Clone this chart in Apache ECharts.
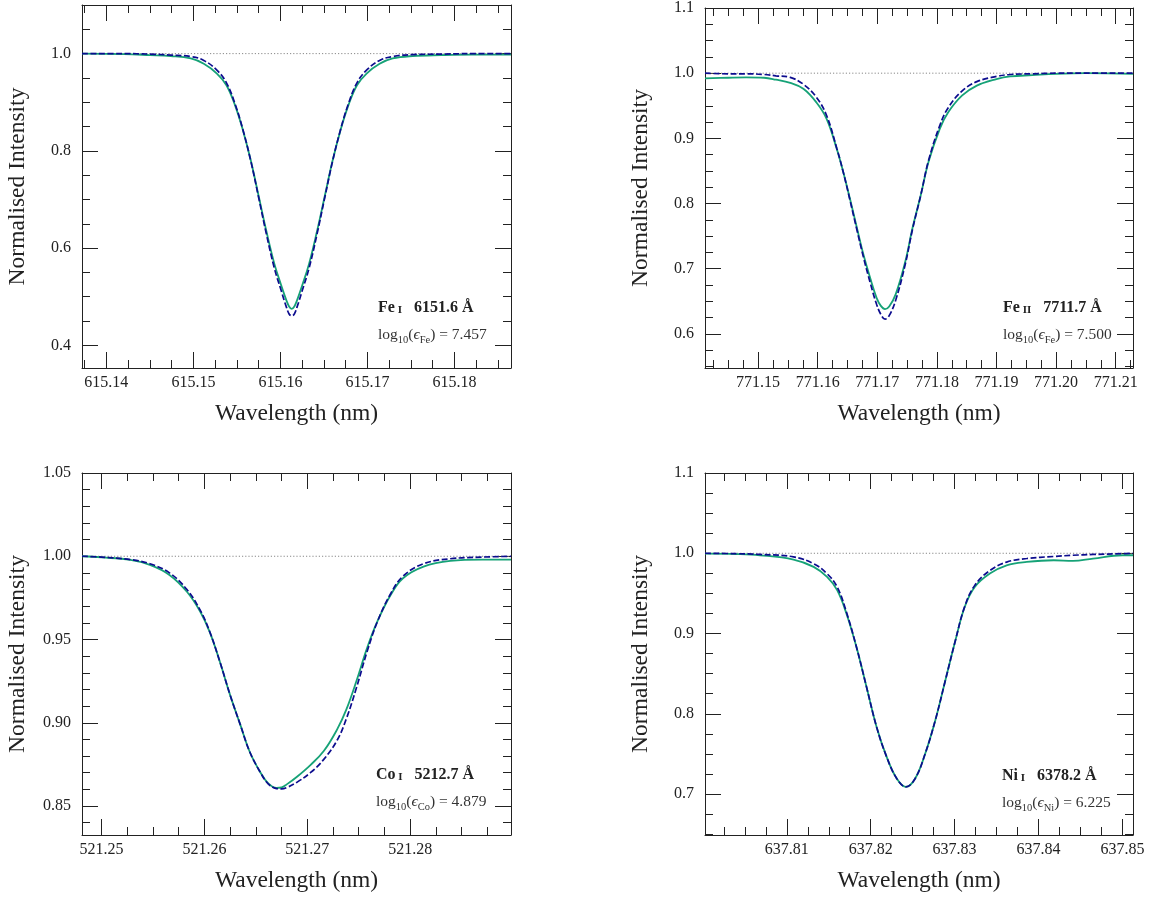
<!DOCTYPE html>
<html><head><meta charset="utf-8">
<script src="https://cdn.jsdelivr.net/npm/echarts@6/dist/echarts.min.js"></script>
<style>html,body{margin:0;padding:0;background:#fff}#c{width:1156px;height:899px}</style>
</head><body><div id="c"></div>
<script>
// ---------------- DATA ----------------
// Panel 1: Fe I 6151.6 A
const p1Wave = [615.1372, 615.1420, 615.1450, 615.1474, 615.1497, 615.1512, 615.1527, 615.1538, 615.1548, 615.1557, 615.1566, 615.1575, 615.1584, 615.1593, 615.1601, 615.1607, 615.1610, 615.1613, 615.1616, 615.1619, 615.1625, 615.1633, 615.1642, 615.1651, 615.1660, 615.1669, 615.1678, 615.1688, 615.1699, 615.1714, 615.1729, 615.1752, 615.1785, 615.1820, 615.1865];
const p1Obs  = [1.000, 0.999, 0.997, 0.995, 0.990, 0.979, 0.959, 0.935, 0.893, 0.842, 0.780, 0.707, 0.634, 0.568, 0.523, 0.492, 0.480, 0.475, 0.480, 0.492, 0.523, 0.568, 0.634, 0.707, 0.780, 0.842, 0.893, 0.935, 0.959, 0.979, 0.990, 0.995, 0.997, 0.998, 0.998];
const p1Syn  = [1.000, 1.000, 0.999, 0.997, 0.994, 0.986, 0.966, 0.940, 0.896, 0.843, 0.779, 0.704, 0.628, 0.559, 0.512, 0.478, 0.4645, 0.4605, 0.4645, 0.478, 0.512, 0.559, 0.628, 0.704, 0.779, 0.843, 0.896, 0.940, 0.966, 0.986, 0.994, 0.998, 0.999, 1.000, 1.000];
const p1XRange = [615.1372, 615.1865];
const p1YRange = [0.3533, 1.1];
const p1XTicks = [615.14, 615.15, 615.16, 615.17, 615.18];
const p1YTicks = [0.4, 0.6, 0.8, 1.0];

// Panel 2: Fe II 7711.7 A
const p2Wave = [771.1411, 771.1450, 771.1480, 771.1510, 771.1530, 771.1554, 771.1576, 771.1598, 771.1615, 771.1632, 771.1643, 771.1654, 771.1666, 771.1677, 771.1688, 771.1699, 771.1706, 771.1713, 771.1720, 771.1731, 771.1747, 771.1759, 771.1773, 771.1786, 771.1805, 771.1819, 771.1842, 771.1867, 771.1900, 771.1923, 771.1960, 771.2000, 771.2050, 771.2129];
const p2Obs  = [0.992, 0.993, 0.9935, 0.993, 0.990, 0.985, 0.976, 0.955, 0.930, 0.884, 0.848, 0.808, 0.762, 0.721, 0.686, 0.655, 0.643, 0.638, 0.642, 0.661, 0.711, 0.762, 0.813, 0.864, 0.915, 0.940, 0.9655, 0.981, 0.991, 0.995, 0.997, 0.999, 1.000, 0.999];
const p2Syn  = [1.000, 0.999, 0.999, 0.998, 0.996, 0.9935, 0.983, 0.963, 0.935, 0.885, 0.848, 0.806, 0.759, 0.717, 0.679, 0.645, 0.630, 0.6226, 0.628, 0.652, 0.707, 0.760, 0.813, 0.866, 0.920, 0.947, 0.9725, 0.987, 0.995, 0.998, 0.999, 1.000, 1.000, 1.000];
const p2XRange = [771.1411, 771.2129];
const p2YRange = [0.5477, 1.1];
const p2XTicks = [771.15, 771.16, 771.17, 771.18, 771.19, 771.20, 771.21];
const p2YTicks = [0.6, 0.7, 0.8, 0.9, 1.0, 1.1];

// Panel 3: Co I 5212.7 A
const p3Wave = [521.2481, 521.2500, 521.2528, 521.2547, 521.2566, 521.2583, 521.2596, 521.2605, 521.2615, 521.2625, 521.2635, 521.2644, 521.2654, 521.2662, 521.2670, 521.2675, 521.2680, 521.2690, 521.2703, 521.2716, 521.2729, 521.2738, 521.2748, 521.2758, 521.2768, 521.2781, 521.2793, 521.2813, 521.2839, 521.2870, 521.2898];
const p3Obs  = [1.000, 0.9993, 0.9978, 0.9948, 0.9888, 0.9787, 0.9667, 0.9547, 0.9367, 0.9166, 0.8986, 0.8826, 0.8706, 0.8636, 0.8609, 0.8612, 0.8630, 0.8676, 0.8746, 0.8830, 0.8960, 0.9080, 0.9255, 0.9447, 0.9607, 0.9767, 0.9868, 0.9938, 0.9972, 0.9980, 0.9980];
const p3Syn  = [1.000, 0.9995, 0.9980, 0.9955, 0.9900, 0.9800, 0.9675, 0.9550, 0.9367, 0.9166, 0.8986, 0.8826, 0.8706, 0.8633, 0.8605, 0.8603, 0.8611, 0.8643, 0.8700, 0.8780, 0.8895, 0.9025, 0.9215, 0.9425, 0.9605, 0.9775, 0.9880, 0.9955, 0.9985, 0.9995, 1.000];
const p3XRange = [521.2481, 521.2898];
const p3YRange = [0.8326, 1.05];
const p3XTicks = [521.25, 521.26, 521.27, 521.28];
const p3YTicks = [0.85, 0.90, 0.95, 1.00, 1.05];

// Panel 4: Ni I 6378.2 A
const p4Wave = [637.80025, 637.8040, 637.8068, 637.8108, 637.8132, 637.8148, 637.8160, 637.8171, 637.8183, 637.8195, 637.8207, 637.8219, 637.8231, 637.8242, 637.8253, 637.8265, 637.8277, 637.8289, 637.8301, 637.8312, 637.8324, 637.8342, 637.8362, 637.8386, 637.8418, 637.8441, 637.8465, 637.8500, 637.85126];
const p4Obs  = [0.9995, 0.999, 0.9975, 0.9921, 0.983, 0.9705, 0.954, 0.925, 0.8833, 0.8335, 0.7837, 0.7463, 0.7194, 0.709, 0.7194, 0.7506, 0.792, 0.8418, 0.8917, 0.9331, 0.958, 0.9747, 0.985, 0.9892, 0.9913, 0.9904, 0.9934, 0.9975, 0.9975];
const p4Syn  = [1.000, 0.9995, 0.9985, 0.9955, 0.987, 0.9745, 0.958, 0.927, 0.8833, 0.8335, 0.7837, 0.7463, 0.7194, 0.709, 0.7194, 0.7506, 0.792, 0.8418, 0.8917, 0.9335, 0.960, 0.9785, 0.989, 0.9935, 0.996, 0.9975, 0.9985, 0.9995, 1.000];
const p4XRange = [637.80025, 637.85126];
const p4YRange = [0.649, 1.1];
const p4XTicks = [637.81, 637.82, 637.83, 637.84, 637.85];
const p4YTicks = [0.7, 0.8, 0.9, 1.0, 1.1];

const continuum = 1.0;
const lineNames = ['Fe', 'Fe', 'Co', 'Ni'];
const ionStages = ['I', 'II', 'I', 'I'];
const lineLabels = ['6151.6 Å', '7711.7 Å', '5212.7 Å', '6378.2 Å'];
const abundances = ['7.457', '7.500', '4.879', '6.225'];
const xAxisTitle = 'Wavelength (nm)';
const yAxisTitle = 'Normalised Intensity';

// ---------------- LAYOUT / STYLE ----------------
const FONT = '"Liberation Serif", "DejaVu Serif", serif';
const GREEN = '#16a277';
const BLUE = '#0c0c8e';
const INK = '#222';

const panels = [
  {grid:{left:82, top:5, width:429, height:363}, wave:p1Wave, obs:p1Obs, syn:p1Syn, xr:p1XRange, yr:p1YRange, xt:p1XTicks, yt:p1YTicks, xm:0.0025, ym:0.05, yd:1, tx:378, ty:307},
  {grid:{left:705, top:5, width:428, height:363}, wave:p2Wave, obs:p2Obs, syn:p2Syn, xr:p2XRange, yr:p2YRange, xt:p2XTicks, yt:p2YTicks, xm:0.0025, ym:0.025, yd:1, tx:1003, ty:307},
  {grid:{left:82, top:473, width:429, height:362}, wave:p3Wave, obs:p3Obs, syn:p3Syn, xr:p3XRange, yr:p3YRange, xt:p3XTicks, yt:p3YTicks, xm:0.0025, ym:0.01, yd:2, tx:376, ty:774},
  {grid:{left:705, top:473, width:428, height:362}, wave:p4Wave, obs:p4Obs, syn:p4Syn, xr:p4XRange, yr:p4YRange, xt:p4XTicks, yt:p4YTicks, xm:0.0025, ym:0.025, yd:1, tx:1002, ty:775}
];

function minors(range, step, majors) {
  const out = [];
  const s = Math.ceil(range[0] / step - 1e-6), e = Math.floor(range[1] / step + 1e-6);
  for (let k = s; k <= e; k++) {
    const v = +(k * step).toFixed(6);
    if (v < range[0] || v > range[1]) continue;
    if (!majors.some(m => Math.abs(m - v) < step / 10)) out.push(v);
  }
  return out;
}

const tickLine = {color: INK, width: 1};
function axisSet(i, p, dim) {
  const isX = dim === 'x';
  const range = isX ? p.xr : p.yr;
  const majors = isX ? p.xt : p.yt;
  const mins = minors(range, isX ? p.xm : p.ym, majors);
  const dec = isX ? 2 : p.yd;
  const pos = isX ? ['bottom', 'top'] : ['left', 'right'];
  const base = {type: 'value', gridIndex: i, min: range[0], max: range[1], splitLine: {show: false}, scale: true};
  const res = [];
  pos.forEach((ps, k) => {
    res.push(Object.assign({}, base, {
      position: ps,
      axisLine: {show: true, onZero: false, lineStyle: {color: INK, width: 1}},
      axisTick: {show: true, inside: true, length: 16, customValues: majors, lineStyle: tickLine},
      axisLabel: k === 0 ? {show: true, customValues: majors, formatter: v => (+v).toFixed(dec), margin: isX ? 7 : 11, fontFamily: FONT, fontSize: 16, color: INK} : {show: false},
      name: k === 0 ? (isX ? xAxisTitle : yAxisTitle) : '',
      nameLocation: 'middle',
      nameGap: isX ? 34 : 52,
      nameTextStyle: {fontFamily: FONT, fontSize: 23.5, color: INK}
    }));
    res.push(Object.assign({}, base, {
      position: ps,
      axisLine: {show: false, onZero: false},
      axisTick: {show: true, inside: true, length: 8, customValues: mins, lineStyle: tickLine},
      axisLabel: {show: false}
    }));
  });
  return res;
}

const grid = [], xAxis = [], yAxis = [], series = [], graphic = [];
panels.forEach((p, i) => {
  grid.push(Object.assign({containLabel: false}, p.grid));
  xAxis.push(...axisSet(i, p, 'x'));
  yAxis.push(...axisSet(i, p, 'y'));
  const xi = xAxis.length - 4, yi = yAxis.length - 4;
  series.push({type: 'line', xAxisIndex: xi, yAxisIndex: yi, data: [[p.xr[0], continuum], [p.xr[1], continuum]],
    symbol: 'none', silent: true, z: 1, lineStyle: {color: '#888', width: 1, type: [1.2, 2]}});
  series.push({type: 'line', xAxisIndex: xi, yAxisIndex: yi, data: p.wave.map((w, j) => [w, p.obs[j]]),
    symbol: 'none', smooth: 0.4, z: 2, lineStyle: {color: GREEN, width: 1.8}});
  series.push({type: 'line', xAxisIndex: xi, yAxisIndex: yi, data: p.wave.map((w, j) => [w, p.syn[j]]),
    symbol: 'none', smooth: 0.4, z: 3, lineStyle: {color: BLUE, width: 1.7, type: [6, 2.5]}});
  graphic.push({type: 'text', z: 10, style: {x: p.tx, y: p.ty, verticalAlign: 'middle', align: 'left',
    text: '{b|' + lineNames[i] + '}{s| ' + ionStages[i] + '}{b|   ' + lineLabels[i] + '}',
    rich: {
      b: {fontFamily: FONT, fontSize: 16, fontWeight: 'bold', fill: INK, lineHeight: 17, verticalAlign: 'bottom'},
      s: {fontFamily: FONT, fontSize: 11, fontWeight: 'bold', fill: INK, lineHeight: 12, verticalAlign: 'bottom'}
    }}});
  graphic.push({type: 'text', z: 10, style: {x: p.tx, y: p.ty + 28, verticalAlign: 'middle', align: 'left',
    text: '{n|log}{sub|10}{n|(}{e|ϵ}{sub|' + lineNames[i] + '}{n|) = ' + abundances[i] + '}',
    rich: {
      n: {fontFamily: FONT, fontSize: 15.5, fill: '#333', lineHeight: 22, verticalAlign: 'middle'},
      e: {fontFamily: FONT, fontSize: 15.5, fontStyle: 'italic', fill: '#333', lineHeight: 22, verticalAlign: 'middle'},
      sub: {fontFamily: FONT, fontSize: 10.5, fill: '#333', lineHeight: 11, verticalAlign: 'bottom'}
    }}});
});

const chart = echarts.init(document.getElementById('c'), null, {renderer: 'canvas'});
chart.setOption({animation: false, backgroundColor: '#fff', grid, xAxis, yAxis, series, graphic});
</script>
</body></html>
